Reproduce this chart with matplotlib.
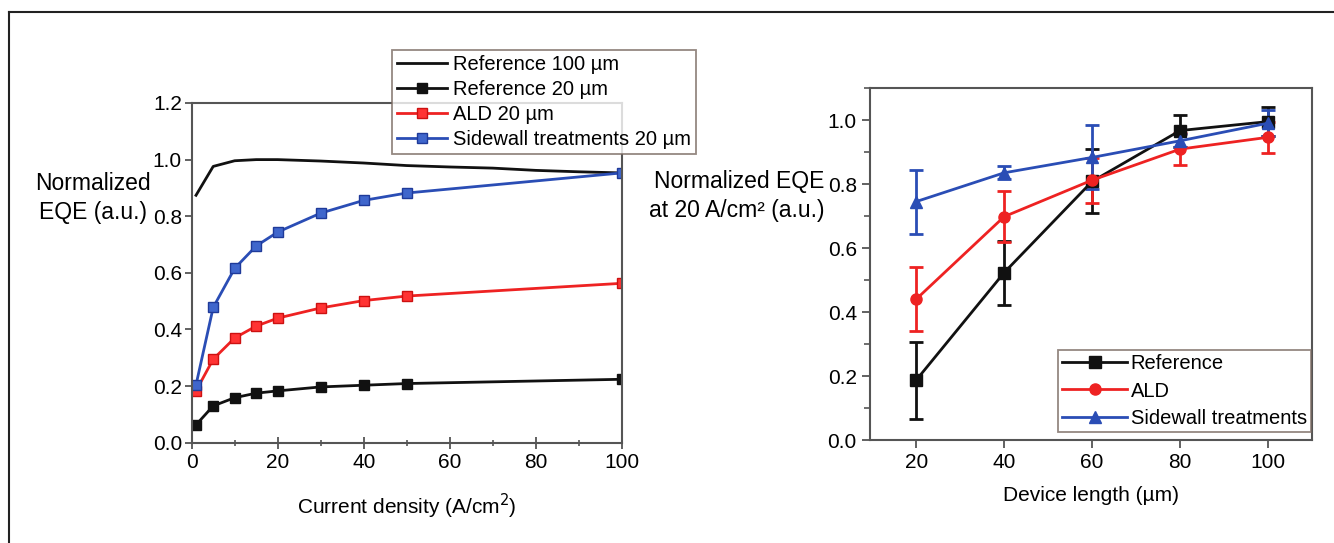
#!/usr/bin/env python3
# -*- coding: utf-8 -*-
"""
Normalized EQE vs current density (left) and vs device length (right)
"""

import matplotlib
matplotlib.use("Agg")
import matplotlib.pyplot as plt
from matplotlib.lines import Line2D
from matplotlib.ticker import MultipleLocator

plt.rcParams["font.family"] = ["Liberation Sans", "DejaVu Sans"]
LABEL_FONT = ["Liberation Sans Narrow", "Liberation Sans", "DejaVu Sans"]

# ---- left panel data: EQE vs current density ----
j_ref100 = [1, 5, 10, 15, 20, 30, 40, 50, 60, 70, 80, 90, 100]
eqe_ref100 = [0.874, 0.976, 0.996, 1.0, 1.0, 0.995, 0.988, 0.979, 0.974, 0.970, 0.962, 0.957, 0.953]

j_pts = [1, 5, 10, 15, 20, 30, 40, 50, 100]
eqe_ref20 = [0.063, 0.130, 0.159, 0.175, 0.183, 0.197, 0.203, 0.209, 0.224]
eqe_ald20 = [0.183, 0.295, 0.370, 0.412, 0.440, 0.476, 0.502, 0.518, 0.563]
eqe_side20 = [0.204, 0.478, 0.616, 0.695, 0.744, 0.811, 0.856, 0.882, 0.953]

# ---- right panel data: EQE at 20 A/cm2 vs device length ----
length = [20, 40, 60, 80, 100]
ref_mean = [0.187, 0.523, 0.808, 0.967, 0.995]
ref_err = [0.12, 0.10, 0.10, 0.05, 0.045]
ald_mean = [0.440, 0.698, 0.812, 0.909, 0.946]
ald_err = [0.10, 0.08, 0.07, 0.05, 0.048]
side_mean = [0.745, 0.835, 0.883, 0.935, 0.990]
side_err = [0.10, 0.02, 0.10, 0.02, 0.04]

BLACK = "#111111"
RED = "#ee2222"
BLUE = "#2a4db5"
SPINE = "#555555"

W, H = 1334, 543
fig = plt.figure(figsize=(W / 100, H / 100), dpi=100)

# 外框（只有左邊和上邊）
fig.add_artist(Line2D([9 / W, 9 / W], [0, 1 - 12 / H], transform=fig.transFigure, color="#222222", lw=1.5))
fig.add_artist(Line2D([9 / W, 1], [1 - 12 / H, 1 - 12 / H], transform=fig.transFigure, color="#222222", lw=1.5))

# 1. left panel
ax1 = fig.add_axes([191.7 / W, 1 - 442.7 / H, 430 / W, 339.7 / H])
ax1.plot(j_ref100, eqe_ref100, color=BLACK, lw=2, label="Reference 100 µm")
ax1.plot(j_pts, eqe_ref20, color=BLACK, lw=2, marker="s", ms=7,
         mfc=BLACK, mec=BLACK, label="Reference 20 µm")
ax1.plot(j_pts, eqe_ald20, color=RED, lw=2, marker="s", ms=7,
         mfc="#ff3333", mec="#cc1111", label="ALD 20 µm")
ax1.plot(j_pts, eqe_side20, color=BLUE, lw=2, marker="s", ms=7,
         mfc="#3f66cc", mec="#1f3a99", label="Sidewall treatments 20 µm")

ax1.set_xlim(0, 100)
ax1.set_ylim(0, 1.2)
ax1.xaxis.set_major_locator(MultipleLocator(20))
ax1.xaxis.set_minor_locator(MultipleLocator(10))
ax1.yaxis.set_major_locator(MultipleLocator(0.2))
ax1.yaxis.set_major_formatter(plt.FormatStrFormatter("%.1f"))
ax1.tick_params(axis="x", which="major", direction="inout", length=8, width=1.3, color=SPINE, labelsize=15)
ax1.tick_params(axis="x", which="minor", direction="inout", length=5, width=1.2, color=SPINE)
ax1.tick_params(axis="y", which="major", direction="out", length=5, width=1.3, color=SPINE, labelsize=15, pad=2)
for s in ax1.spines.values():
    s.set_color(SPINE)
    s.set_linewidth(1.5)
ax1.set_xlabel("Current density (A/cm$^2$)", fontsize=15, family=LABEL_FONT, labelpad=14)

leg1 = ax1.legend(loc="upper left", bbox_to_anchor=(392 / W, 1 - 50 / H),
                  bbox_transform=fig.transFigure, fontsize=14.5, frameon=True,
                  fancybox=False, borderaxespad=0, borderpad=0.25,
                  labelspacing=0.3, handlelength=2.5, handletextpad=0.3)
leg1.get_frame().set_edgecolor("#7a6a62")
leg1.get_frame().set_linewidth(1.3)

fig.text(93 / W, 1 - 198 / H, "Normalized\nEQE (a.u.)", ha="center", va="center",
         fontsize=16.5, family=LABEL_FONT, linespacing=1.3)

# 2. right panel
ax2 = fig.add_axes([870 / W, 1 - 440 / H, 442 / W, 352 / H])
eb_kw = dict(lw=2, elinewidth=2, capsize=5, capthick=2, ms=8)
h_ref = ax2.errorbar(length, ref_mean, yerr=ref_err, color=BLACK, marker="s", **eb_kw)
h_ald = ax2.errorbar(length, ald_mean, yerr=ald_err, color=RED, marker="o", **eb_kw)
h_side = ax2.errorbar(length, side_mean, yerr=side_err, color=BLUE, marker="^", **eb_kw)

ax2.set_xlim(9.5, 110)
ax2.set_ylim(0, 1.1)
ax2.xaxis.set_major_locator(MultipleLocator(20))
ax2.yaxis.set_major_locator(MultipleLocator(0.2))
ax2.yaxis.set_minor_locator(MultipleLocator(0.1))
ax2.yaxis.set_major_formatter(plt.FormatStrFormatter("%.1f"))
ax2.tick_params(axis="both", which="major", direction="out", length=6, width=1.3, color=SPINE, labelsize=15)
ax2.tick_params(axis="y", which="minor", direction="out", length=4, width=1.2, color=SPINE)
for s in ax2.spines.values():
    s.set_color(SPINE)
    s.set_linewidth(1.5)
ax2.set_xlabel("Device length (µm)", fontsize=15, family=LABEL_FONT, labelpad=10)

# 圖例只顯示線和標記，不顯示誤差棒
leg2 = ax2.legend([h_ref.lines[0], h_ald.lines[0], h_side.lines[0]],
                  ["Reference", "ALD", "Sidewall treatments"],
                  loc="lower right", bbox_to_anchor=(1311 / W, 1 - 432 / H),
                  bbox_transform=fig.transFigure, fontsize=14.5, frameon=True,
                  fancybox=False, borderaxespad=0, borderpad=0.2,
                  labelspacing=0.42, handlelength=3.2, handletextpad=0.2)
leg2.get_frame().set_edgecolor("#7a6a62")
leg2.get_frame().set_linewidth(1.3)

fig.text(824 / W, 1 - 196 / H, "Normalized EQE\nat 20 A/cm² (a.u.)", ha="right", va="center",
         fontsize=16.5, family=LABEL_FONT, linespacing=1.3, multialignment="right")

plt.savefig("out.png", dpi=100)
